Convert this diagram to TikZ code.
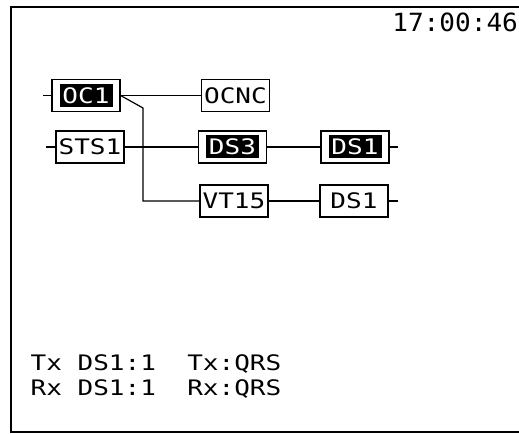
\documentclass[tikz,border=0pt]{standalone}
\usepackage{fontspec}
\usepackage{tikz}
\usetikzlibrary{positioning,calc}
\newfontfamily\lcdfont[FakeStretch=1.22]{DejaVu Sans Mono}
\newfontfamily\clockfont[FakeStretch=1.04]{DejaVu Sans Mono}
\newcommand{\lcdtext}{\lcdfont\fontsize{16}{19.1}\selectfont}

\begin{document}
\begin{tikzpicture}[x=0.75pt,y=-0.75pt,line width=0.9pt,
    box/.style={draw,fill=white,inner sep=0pt,minimum width=51pt,minimum height=24pt,font=\lcdtext},
    hilite/.style={box,text=white,path picture={\fill[black] (path picture bounding box.center) +(-26.5,-11.5) rectangle +(26.5,11.5);}}]
    \useasboundingbox (0,0) rectangle (519,434);
    % screen frame, open to the right
    \draw[line width=1.5pt] (519,7.5) -- (10.5,7.5) -- (10.5,432.5) -- (519,432.5);
    \node[anchor=base east,inner sep=0pt,font=\clockfont\fontsize{18.8}{20}\selectfont] (clock) at (518.5,31.7) {17:00:46};
    % signal tree
    \node[hilite] (oc) at (86,95.5) {OC1};
    \node[box] (ocnc) at (235.5,95.5) {OCNC};
    \node[box] (sts) at (90,147) {STS1};
    \node[hilite] (dsthree) at (232.5,147) {DS3};
    \node[hilite] (dsa) at (355,147) {DS1};
    \node[box] (vt) at (234,201) {VT15};
    \node[box] (dsb) at (354,201) {DS1};
    \coordinate (ocin) at (43,95.5);
    \coordinate (stsin) at (46,147);
    \coordinate (dsaout) at (398,147);
    \coordinate (dsbout) at (398,201);
    \coordinate (kink) at (143,108);
    \draw (ocin)--(oc); \draw (oc.east)--(ocnc.west); \draw (oc.east)--(kink)|-(vt.west);
    \draw (stsin)--(sts); \draw (sts)--(dsthree); \draw (dsthree)--(dsa); \draw (dsa.east)--(dsaout);
    \draw (vt)--(dsb); \draw (dsb.east)--(dsbout);
    % status lines
    \node[anchor=base west,inner sep=0pt,align=left,font=\lcdtext] (status) at (30,396) {Tx DS1:1~~Tx:QRS\\Rx DS1:1~~Rx:QRS};
\end{tikzpicture}
\end{document}
